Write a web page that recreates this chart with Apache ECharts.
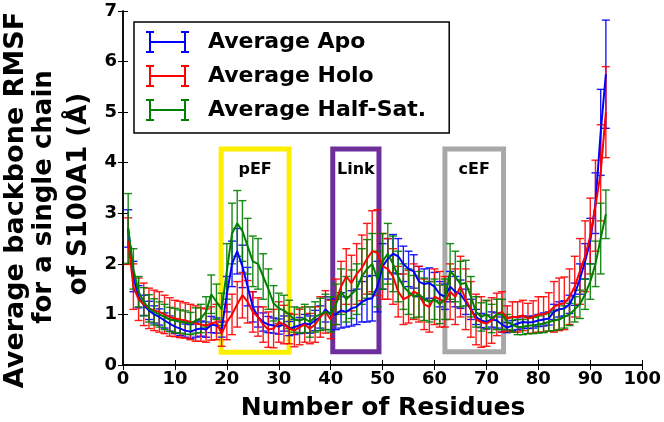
<!DOCTYPE html>
<html><head><meta charset="utf-8">
<script src="https://cdn.jsdelivr.net/npm/echarts@6/dist/echarts.min.js"></script>
<style>html,body{margin:0;padding:0;background:#fff}#c{width:664px;height:422px}</style>
</head><body><div id="c"></div>
<script>
const residues = [1,2,3,4,5,6,7,8,9,10,11,12,13,14,15,16,17,18,19,20,21,22,23,24,25,26,27,28,29,30,31,32,33,34,35,36,37,38,39,40,41,42,43,44,45,46,47,48,49,50,51,52,53,54,55,56,57,58,59,60,61,62,63,64,65,66,67,68,69,70,71,72,73,74,75,76,77,78,79,80,81,82,83,84,85,86,87,88,89,90,91,92,93];

const apoMean = [2.70,1.75,1.35,1.18,1.08,1.00,0.95,0.88,0.82,0.76,
 0.72,0.68,0.66,0.70,0.72,0.70,0.80,0.78,0.70,1.40,
 2.00,2.25,1.95,1.55,1.15,0.95,0.85,0.80,0.78,0.76,
 0.82,0.72,0.75,0.78,0.82,0.80,0.88,0.95,1.10,1.00,
 1.00,1.08,1.05,1.12,1.15,1.25,1.30,1.32,1.55,1.95,
 2.10,2.20,2.15,2.00,1.90,1.85,1.65,1.60,1.62,1.55,
 1.40,1.35,1.55,1.45,1.40,1.25,1.10,0.95,0.88,0.85,
 0.90,0.88,0.80,0.74,0.78,0.82,0.85,0.84,0.85,0.88,
 0.90,0.92,1.05,1.10,1.12,1.20,1.40,1.70,2.05,2.45,
 3.20,4.60,5.75];
const apoErr = [0.37,0.30,0.22,0.20,0.18,0.17,0.16,0.15,0.15,0.14,
 0.14,0.13,0.14,0.15,0.15,0.15,0.16,0.15,0.15,0.35,
 0.45,0.45,0.42,0.38,0.30,0.20,0.18,0.16,0.15,0.15,
 0.15,0.14,0.15,0.16,0.18,0.17,0.20,0.22,0.25,0.30,
 0.30,0.35,0.30,0.35,0.35,0.40,0.45,0.45,0.50,0.45,
 0.40,0.38,0.35,0.35,0.35,0.33,0.30,0.30,0.30,0.28,
 0.25,0.25,0.30,0.30,0.28,0.25,0.20,0.15,0.14,0.14,
 0.15,0.15,0.15,0.10,0.10,0.12,0.12,0.12,0.12,0.12,
 0.13,0.13,0.15,0.15,0.15,0.18,0.22,0.30,0.35,0.45,
 0.60,0.85,1.07];

const holoMean = [2.45,1.55,1.30,1.20,1.12,1.08,1.05,1.00,0.95,0.92,
 0.90,0.88,0.85,0.82,0.80,0.78,0.82,0.85,0.62,0.85,
 1.00,1.20,1.38,1.25,1.05,0.95,0.80,0.70,0.72,0.85,
 0.80,0.72,0.68,0.75,0.80,0.72,0.80,0.95,1.05,0.90,
 1.25,1.55,1.75,1.62,1.80,1.92,2.10,2.25,2.22,1.95,
 1.90,1.75,1.45,1.30,1.35,1.45,1.40,1.20,1.15,1.35,
 1.30,1.25,1.45,1.35,1.55,1.30,1.10,0.90,0.85,0.82,
 0.88,1.00,1.05,0.92,0.95,0.95,0.98,0.92,0.95,1.00,
 1.00,1.05,1.15,1.20,1.22,1.35,1.55,1.85,2.15,2.55,
 3.15,3.80,5.00];
const holoErr = [0.46,0.45,0.42,0.42,0.40,0.40,0.40,0.38,0.38,0.36,
 0.36,0.35,0.35,0.35,0.33,0.33,0.33,0.35,0.25,0.35,
 0.40,0.45,0.45,0.42,0.40,0.38,0.35,0.35,0.38,0.40,
 0.38,0.30,0.32,0.35,0.35,0.30,0.35,0.40,0.42,0.38,
 0.45,0.50,0.55,0.55,0.60,0.65,0.70,0.80,0.85,0.65,
 0.60,0.55,0.50,0.50,0.52,0.55,0.55,0.50,0.50,0.55,
 0.55,0.50,0.55,0.55,0.60,0.60,0.55,0.50,0.50,0.45,
 0.45,0.42,0.40,0.25,0.30,0.30,0.30,0.30,0.32,0.35,
 0.35,0.38,0.50,0.52,0.52,0.55,0.60,0.65,0.70,0.75,
 0.90,0.95,0.90];

const halfMean = [2.70,1.90,1.45,1.25,1.12,1.05,1.00,0.95,0.90,0.88,
 0.86,0.84,0.82,0.88,0.92,1.05,1.40,1.25,1.10,1.85,
 2.60,2.80,2.65,2.35,2.05,2.00,1.75,1.50,1.22,1.12,
 1.08,1.00,0.90,0.88,0.92,0.85,0.95,1.00,1.05,1.00,
 1.20,1.45,1.30,1.40,1.50,1.75,1.90,2.00,1.70,2.05,
 2.20,2.00,1.75,1.55,1.45,1.35,1.40,1.30,1.25,1.30,
 1.20,1.30,1.85,1.75,1.60,1.62,1.35,1.05,0.95,1.00,
 0.92,1.00,1.00,0.85,0.80,0.75,0.75,0.78,0.78,0.80,
 0.82,0.85,0.88,0.90,0.95,1.00,1.10,1.20,1.40,1.65,
 2.00,2.50,2.98];
const halfErr = [0.69,0.40,0.30,0.28,0.27,0.26,0.25,0.25,0.24,0.24,
 0.23,0.23,0.22,0.25,0.28,0.30,0.38,0.35,0.32,0.55,
 0.60,0.65,0.60,0.55,0.50,0.50,0.45,0.40,0.35,0.30,
 0.30,0.28,0.25,0.25,0.28,0.30,0.30,0.32,0.35,0.35,
 0.40,0.45,0.45,0.48,0.50,0.55,0.58,0.60,0.55,0.55,
 0.60,0.55,0.50,0.45,0.45,0.42,0.45,0.42,0.40,0.40,
 0.38,0.40,0.55,0.50,0.45,0.45,0.40,0.30,0.28,0.28,
 0.28,0.30,0.30,0.15,0.15,0.15,0.15,0.16,0.16,0.17,
 0.18,0.18,0.20,0.20,0.22,0.22,0.25,0.28,0.30,0.35,
 0.45,0.70,0.48];

const seriesNames = ['Average Apo', 'Average Holo', 'Average Half-Sat.'];
const regionNames = ['pEF', 'Link', 'cEF'];
const regionStart = [18.9, 40.4, 62.0];
const regionEnd = [32.0, 49.3, 73.3];
const regionLow = [0.25, 0.26, 0.26];
const regionHigh = [4.27, 4.27, 4.27];

const xMin = 0, xMax = 100, xStep = 10;
const yMin = 0, yMax = 7, yStep = 1;
const yTitleLines = ['Average backbone RMSF', 'for a single chain', 'of S100A1 (Å)'];
const xTitle = 'Number of Residues';

// styles
const FONT = '"DejaVu Sans", sans-serif';
const seriesColors = ['#0000ff', '#ff0000', '#007f00'];
const regionColors = ['#fcf000', '#6d2f9c', '#a8a8a8'];

const chart = echarts.init(document.getElementById('c'));

function errSeries(name, color, mean, err) {
  return {
    type: 'custom', name: name + ' err', xAxisIndex: 0, yAxisIndex: 0,
    silent: true,
    data: residues.map((r, i) => [r, mean[i], err[i]]),
    encode: { x: 0, y: 1 },
    renderItem(params, api) {
      const x = api.value(0), m = api.value(1), e = api.value(2);
      const top = api.coord([x, m + e]), bot = api.coord([x, m - e]);
      const cw = 4;
      const st = { stroke: color, lineWidth: 1.4, opacity: 0.9 };
      return { type: 'group', children: [
        { type: 'line', shape: { x1: top[0], y1: top[1], x2: bot[0], y2: bot[1] }, style: st },
        { type: 'line', shape: { x1: top[0] - cw, y1: top[1], x2: top[0] + cw, y2: top[1] }, style: st },
        { type: 'line', shape: { x1: bot[0] - cw, y1: bot[1], x2: bot[0] + cw, y2: bot[1] }, style: st }
      ]};
    }
  };
}
function lineSeries(name, color, mean) {
  return {
    type: 'line', name: name, xAxisIndex: 0, yAxisIndex: 0,
    data: residues.map((r, i) => [r, mean[i]]),
    showSymbol: false, symbol: 'none', silent: true,
    lineStyle: { color: color, width: 2 },
    itemStyle: { color: color }
  };
}

const boxSeries = {
  type: 'custom', name: 'regions', xAxisIndex: 0, yAxisIndex: 0, silent: true, z: 1,
  data: regionNames.map((n, i) => [regionStart[i], regionLow[i], regionEnd[i], regionHigh[i]]),
  encode: { x: [0, 2], y: [1, 3] },
  renderItem(params, api) {
    const i = params.dataIndex;
    const p0 = api.coord([api.value(0), api.value(3)]);
    const p1 = api.coord([api.value(2), api.value(1)]);
    return { type: 'group', children: [
      { type: 'rect', shape: { x: p0[0], y: p0[1], width: p1[0] - p0[0], height: p1[1] - p0[1] },
        style: { fill: 'none', stroke: regionColors[i], lineWidth: 5 } },
      { type: 'text', x: (p0[0] + p1[0]) / 2, y: p0[1] + 21,
        style: { text: regionNames[i], font: 'bold 16px ' + FONT, fill: '#000',
                 align: 'center', verticalAlign: 'middle', textAlign: 'center', textVerticalAlign: 'middle' } }
    ]};
  }
};

const axisCommon = {
  axisLine: { show: true, lineStyle: { color: '#000', width: 1.5 } },
  axisTick: { show: true, inside: true, length: 5, lineStyle: { color: '#000', width: 1 } },
  splitLine: { show: false }
};
const labelStyle = { fontFamily: FONT, fontWeight: 'bold', fontSize: 18, color: '#000' };

const option = {
  animation: false,
  backgroundColor: '#fff',
  grid: { left: 123, right: 19, top: 11, bottom: 57 },
  xAxis: [
    Object.assign({ type: 'value', min: xMin, max: xMax, interval: xStep, position: 'bottom',
      axisLabel: Object.assign({ margin: 5 }, labelStyle) }, axisCommon),
    Object.assign({ type: 'value', min: xMin, max: xMax, interval: xStep, position: 'top',
      axisLabel: { show: false } }, axisCommon)
  ],
  yAxis: [
    Object.assign({ type: 'value', min: yMin, max: yMax, interval: yStep, position: 'left',
      axisLabel: Object.assign({ margin: 6 }, labelStyle) }, axisCommon),
    Object.assign({ type: 'value', min: yMin, max: yMax, interval: yStep, position: 'right',
      axisLabel: { show: false } }, axisCommon)
  ],
  legend: {
    data: seriesNames, orient: 'vertical', left: 134, top: 22,
    padding: [9, 23, 12, 12], itemGap: 12, itemWidth: 43, itemHeight: 22,
    icon: 'path://M0,0h8v2h-8z M0,20h8v2h-8z M3,0h2v22h-2z M5,10h33v2h-33z M38,0h2v22h-2z M35,0h8v2h-8z M35,20h8v2h-8z',
    itemStyle: { borderWidth: 0 },
    borderColor: '#000', borderWidth: 1.5, backgroundColor: '#fff', borderRadius: 0,
    selectedMode: false,
    textStyle: { fontFamily: FONT, fontWeight: 'bold', fontSize: 22, color: '#000', lineHeight: 22, padding: [0, 0, 0, 14] }
  },
  graphic: [
    { type: 'text', x: 16, y: 200, rotation: Math.PI / 2,
      style: { text: yTitleLines[0], font: 'bold 27px ' + FONT, fill: '#000', align: 'center', verticalAlign: 'middle', textAlign: 'center', textVerticalAlign: 'middle' } },
    { type: 'text', x: 44, y: 197, rotation: Math.PI / 2,
      style: { text: yTitleLines[1], font: 'bold 26px ' + FONT, fill: '#000', align: 'center', verticalAlign: 'middle', textAlign: 'center', textVerticalAlign: 'middle' } },
    { type: 'text', x: 79, y: 194, rotation: Math.PI / 2,
      style: { text: yTitleLines[2], font: 'bold 26px ' + FONT, fill: '#000', align: 'center', verticalAlign: 'middle', textAlign: 'center', textVerticalAlign: 'middle' } },
    { type: 'text', x: 383, y: 408,
      style: { text: xTitle, font: 'bold 25px ' + FONT, fill: '#000', align: 'center', verticalAlign: 'middle', textAlign: 'center', textVerticalAlign: 'middle' } }
  ],
  series: [
    boxSeries,
    errSeries(seriesNames[0], seriesColors[0], apoMean, apoErr),
    lineSeries(seriesNames[0], seriesColors[0], apoMean),
    errSeries(seriesNames[1], seriesColors[1], holoMean, holoErr),
    lineSeries(seriesNames[1], seriesColors[1], holoMean),
    errSeries(seriesNames[2], seriesColors[2], halfMean, halfErr),
    lineSeries(seriesNames[2], seriesColors[2], halfMean)
  ]
};
chart.setOption(option);
</script>
</body></html>
